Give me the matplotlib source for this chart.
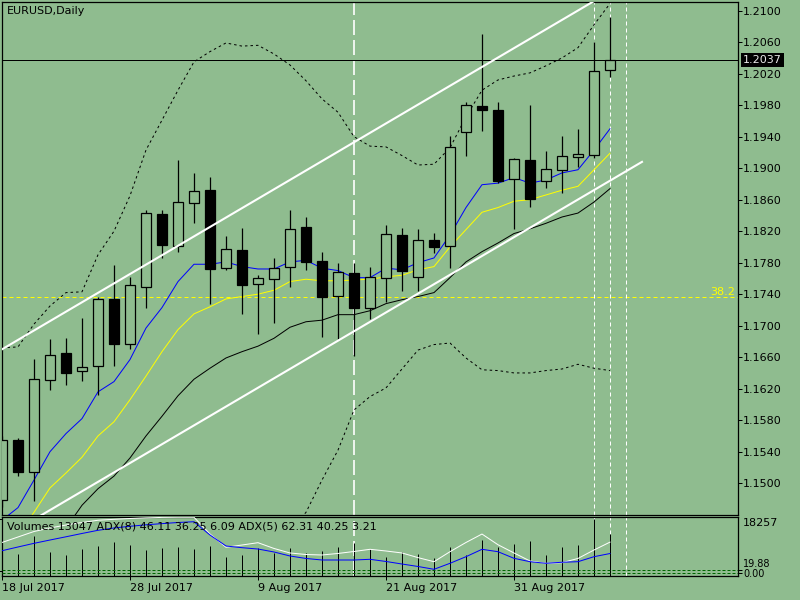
import numpy as np
import matplotlib
matplotlib.use('Agg')
from matplotlib import pyplot as plt
from matplotlib import transforms

plt.rcParams['font.family'] = ['DejaVu Sans']
plt.rcParams['font.size'] = 8

# daily bars, 18 Jul 2017 .. 8 Sep 2017
opens = [1.14786, 1.15548, 1.15138, 1.16307, 1.16653, 1.16421, 1.16484, 1.17335, 1.16764, 1.17488,
         1.18415, 1.18016, 1.18554, 1.18723, 1.17729, 1.17961, 1.17526, 1.17589, 1.17742, 1.18250,
         1.17822, 1.17373, 1.17669, 1.17229, 1.17602, 1.18152, 1.17615, 1.18088, 1.18012, 1.19456,
         1.19790, 1.19739, 1.18859, 1.19104, 1.18834, 1.18973, 1.19138, 1.19164, 1.20243]
highs = [1.15600, 1.15577, 1.16573, 1.16831, 1.16844, 1.17094, 1.17368, 1.17767, 1.17615, 1.18469,
         1.18469, 1.19104, 1.18935, 1.18884, 1.18139, 1.18237, 1.17640, 1.17863, 1.18469, 1.18384,
         1.17932, 1.17800, 1.17800, 1.17749, 1.18279, 1.18237, 1.18228, 1.18177, 1.19409, 1.19844,
         1.20704, 1.19841, 1.19126, 1.19803, 1.19218, 1.19409, 1.19502, 1.20606, 1.20920]
lows = [1.14700, 1.15094, 1.14777, 1.16183, 1.16251, 1.16302, 1.16124, 1.16492, 1.16710, 1.17229,
        1.17856, 1.17940, 1.18308, 1.17279, 1.17707, 1.17145, 1.16891, 1.17038, 1.17488, 1.17701,
        1.16860, 1.16835, 1.16615, 1.17089, 1.17305, 1.17444, 1.17444, 1.17919, 1.17737, 1.19159,
        1.19469, 1.18808, 1.18224, 1.18503, 1.18745, 1.18681, 1.19015, 1.19133, 1.20154]
closes = [1.15548, 1.15141, 1.16319, 1.16624, 1.16403, 1.16472, 1.17335, 1.16764, 1.17513, 1.18427,
          1.18029, 1.18567, 1.18707, 1.17724, 1.17970, 1.17521, 1.17602, 1.17729, 1.18224, 1.17803,
          1.17361, 1.17678, 1.17229, 1.17615, 1.18161, 1.17695, 1.18084, 1.17995, 1.19265, 1.19799,
          1.19735, 1.18841, 1.19113, 1.18605, 1.18986, 1.19155, 1.19180, 1.20234, 1.20370]

ma_blue = [1.1453, 1.1469, 1.1504, 1.1540, 1.1563, 1.1582, 1.1616, 1.1629, 1.1657, 1.1697,
           1.1723, 1.1756, 1.1778, 1.1778, 1.1781, 1.1775, 1.1772, 1.1772, 1.1781, 1.1783,
           1.1773, 1.1770, 1.1761, 1.1761, 1.1773, 1.1771, 1.1780, 1.1786, 1.1815, 1.1850,
           1.1879, 1.1881, 1.1888, 1.1881, 1.1885, 1.1894, 1.1898, 1.1923, 1.1950]
ma_yellow = [1.1403, 1.1434, 1.1463, 1.1494, 1.1513, 1.1533, 1.1560, 1.1578, 1.1606, 1.1636,
             1.1667, 1.1695, 1.1715, 1.1724, 1.1734, 1.1737, 1.1740, 1.1745, 1.1756, 1.1759,
             1.1757, 1.1757, 1.1758, 1.1759, 1.1762, 1.1764, 1.1771, 1.1775, 1.1800, 1.1822,
             1.1844, 1.1850, 1.1858, 1.1860, 1.1866, 1.1872, 1.1877, 1.1898, 1.1919]
ma_black = [1.1352, 1.1371, 1.1396, 1.1422, 1.1443, 1.1472, 1.1493, 1.1509, 1.1532, 1.1560,
            1.1585, 1.1611, 1.1632, 1.1646, 1.1659, 1.1667, 1.1674, 1.1684, 1.1698, 1.1705,
            1.1707, 1.1714, 1.1714, 1.1719, 1.1728, 1.1733, 1.1737, 1.1742, 1.1761, 1.1781,
            1.1794, 1.1805, 1.1817, 1.1823, 1.1830, 1.1838, 1.1843, 1.1857, 1.1874]
bb_upper = [1.1672, 1.1673, 1.1702, 1.1725, 1.1742, 1.1743, 1.1790, 1.1820, 1.1865, 1.1923,
            1.1961, 1.1999, 1.2035, 1.2048, 1.2059, 1.2055, 1.2056, 1.2045, 1.2031, 1.2011,
            1.1988, 1.1971, 1.1940, 1.1928, 1.1927, 1.1916, 1.1904, 1.1905, 1.1926, 1.1965,
            1.1999, 1.2012, 1.2017, 1.2021, 1.2030, 1.2040, 1.2053, 1.2082, 1.2109]
bb_lower = [1.1290, 1.1280, 1.1270, 1.1265, 1.1262, 1.1262, 1.1268, 1.1270, 1.1275, 1.1280,
            1.1290, 1.1300, 1.1310, 1.1325, 1.1345, 1.1370, 1.1395, 1.1420, 1.1440, 1.1463,
            1.1504, 1.1542, 1.1593, 1.1610, 1.1621, 1.1645, 1.1669, 1.1676, 1.1678, 1.1659,
            1.1644, 1.1643, 1.1640, 1.1640, 1.1643, 1.1645, 1.1651, 1.1646, 1.1643]

volumes = [7415, 5897, 12359, 6815, 5650, 7768, 8828, 10134, 9181, 7415,
           8227, 8368, 7768, 8828, 5049, 5650, 8015, 6250, 8015, 6250,
           7062, 8368, 9993, 7662, 5049, 6815, 5897, 4696, 8368, 5650,
           10946, 8580, 9534, 10593, 5650, 8368, 9181, 18257, 13047]
adx5 = [61.8, 69.6, 77.4, 82.4, 86.6, 90.2, 93.4, 94.7, 95.9, 96.8,
        97.4, 97.6, 97.6, 73.8, 55.0, 58.2, 61.5, 53.3, 46.9, 44.7,
        44.0, 46.2, 49.0, 52.1, 49.7, 46.9, 40.3, 34.5, 48.7, 61.8,
        73.8, 58.6, 46.9, 35.5, 32.2, 33.1, 39.1, 51.1, 62.3]
adx8 = [50.1, 55.4, 60.6, 65.3, 69.9, 74.6, 79.1, 82.4, 84.8, 86.9,
        88.6, 90.2, 91.3, 72.4, 56.8, 54.4, 52.5, 48.3, 42.6, 39.1,
        36.9, 36.9, 36.9, 37.9, 34.8, 31.2, 27.7, 23.7, 32.2, 41.6,
        52.1, 48.7, 39.3, 34.5, 32.2, 33.7, 34.5, 41.6, 46.1]
adx_levels = [18.0, 22.7]

tick_idx = [0, 8, 16, 24, 32]
tick_labels = ['18 Jul 2017', '28 Jul 2017', '9 Aug 2017', '21 Aug 2017', '31 Aug 2017']

# chart objects
chan_idx = [0, 40]
chan_upper = [1.1670, 1.2148]
chan_lower = [1.1430, 1.1908]
fib_level = 1.17365
vline_long = [22]
vline_short = [37, 38, 39]

bg = '#8fbc8f'
px = 0.72

opens = np.array(opens)
closes = np.array(closes)
x = np.arange(len(closes))

fig = plt.figure(figsize=(8, 6), dpi=100, facecolor=bg)
ax = fig.add_axes([0.0025, 0.1425, 0.919375, 0.854167], facecolor=bg)
axp = fig.add_axes([0.0025, 0.0405, 0.919375, 0.09783], facecolor=bg)

# background objects
ax.axhline(fib_level, color='yellow', lw=px, ls=(0, (4, 3)), zorder=1)
for k in vline_long:
    ax.axvline(k, color='white', lw=1.2, ls=(0, (9, 3)), zorder=1)
    axp.axvline(k, color='white', lw=1.2, ls=(0, (9, 3)), zorder=1)
for k in vline_short:
    ax.axvline(k, color='white', lw=px, ls=(0, (4, 3)), zorder=1)
    axp.axvline(k, color='white', lw=px, ls=(0, (4, 3)), zorder=1)

# indicators
ax.plot(x, bb_upper, color='black', lw=px, ls=(0, (2.5, 3)), zorder=2)
ax.plot(x, bb_lower, color='black', lw=px, ls=(0, (2.5, 3)), zorder=2)
ax.plot(x, ma_black, color='black', lw=px, zorder=2)
ax.plot(x, ma_yellow, color='yellow', lw=px, zorder=2)
ax.plot(x, ma_blue, color='blue', lw=px, zorder=2)
ax.axhline(closes[-1], color='black', lw=px, zorder=2)

# candles
body_col = np.where(closes >= opens, bg, 'black')
ax.vlines(x, lows, highs, color='black', lw=0.9, zorder=3)
ax.bar(x, closes - opens, bottom=opens, width=0.62, color=body_col,
       edgecolor='black', lw=0.9, zorder=3.5)

# channel
ax.plot(chan_idx, chan_upper, color='white', lw=1.5, zorder=4)
ax.plot(chan_idx, chan_lower, color='white', lw=1.5, zorder=4)

ax.set_xlim(0, 45.97)
ax.set_ylim(1.146025, 1.21110)
ax.set_xticks([])
yt = np.round(np.arange(1.1500, 1.21005, 0.004), 4)
ax.yaxis.tick_right()
ax.set_yticks(yt)
ax.set_yticklabels(['%.4f' % v for v in yt])
ax.tick_params(axis='y', direction='out', length=2.9, width=px, pad=1.2, labelsize=8)
for s in ax.spines.values():
    s.set_linewidth(0.9)

ax.text(0.0068, 0.9815, 'EURUSD,Daily', transform=ax.transAxes, va='center', ha='left')
tr = transforms.blended_transform_factory(ax.transAxes, ax.transData)
ax.text(0.9966, fib_level, '38.2', transform=tr, color='yellow', ha='right', va='bottom')
ax.text(1.0075, closes[-1], '%.4f' % closes[-1], transform=tr, color='#e8e8e8',
        ha='left', va='center',
        bbox=dict(boxstyle='square,pad=0.18', fc='black', ec='none'))

# volume / ADX panel
vol_floor = -1660
axp.vlines(x, vol_floor, volumes, color='black', lw=px, zorder=2)
axp.set_xlim(0, 45.97)
axp.set_ylim(vol_floor, 19069)
axp.yaxis.tick_right()
axp.set_yticks([0, 18257])
axp.set_yticklabels([])
axp.tick_params(axis='y', direction='out', length=2.9, width=px)
axp.set_xticks(tick_idx)
axp.set_xticklabels(tick_labels)
for lab in axp.get_xticklabels():
    lab.set_ha('left')
axp.tick_params(axis='x', direction='out', length=2.9, width=px, pad=2.0, labelsize=8)
for s in axp.spines.values():
    s.set_linewidth(0.9)

axa = axp.twinx()
axa.set_ylim(14.6, 98.0)
for lv in adx_levels:
    axa.axhline(lv, color='#006400', lw=px, ls=(0, (3, 2)), zorder=1)
axa.plot(x, adx5, color='white', lw=px, zorder=3)
axa.plot(x, adx8, color='blue', lw=px, zorder=3)
axa.set_yticks(adx_levels)
axa.set_yticklabels([])
axa.tick_params(axis='y', direction='out', length=2.9, width=px)
for s in axa.spines.values():
    s.set_visible(False)
axa.text(0.0068, 0.83, 'Volumes 13047 ADX(8) 46.11 36.25 6.09 ADX(5) 62.31 40.25 3.21',
         transform=axa.transAxes, va='center', ha='left')

fig.text(743 / 800, 1 - 523 / 600, '18257', va='center', ha='left')
fig.text(743 / 800, 1 - 564 / 600, '19.88', va='center', ha='left', fontsize=7)
fig.text(743 / 800, 1 - 574 / 600, '0.00', va='center', ha='left', fontsize=7)

fig.savefig('out.png', dpi=100, facecolor=bg)
